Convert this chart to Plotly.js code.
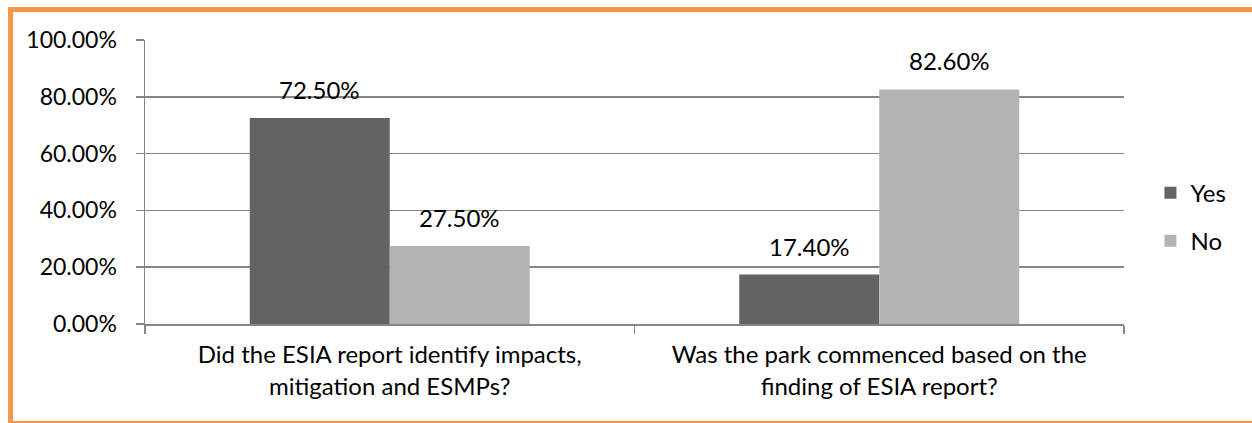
<!DOCTYPE html>
<html>
<head>
<meta charset="utf-8">
<script src="https://cdn.plot.ly/plotly-3.0.1.min.js"></script>
<style>
html,body{margin:0;padding:0;width:1252px;height:423px;overflow:hidden;background:#fff;}
#chart{position:absolute;left:0;top:0;width:1252px;height:423px;}
#frame{position:absolute;left:8px;top:7px;width:1260px;height:409px;border-left:5px solid #F79646;border-top:5px solid #F79646;border-bottom:5px solid #F79646;pointer-events:none;}
</style>
</head>
<body>
<div id="chart"></div>
<div id="frame"></div>
<script>
var categories = ["Did the ESIA report identify impacts,<br>mitigation and ESMPs?", "Was the park commenced based on the<br>finding of ESIA report?"];
var seriesNames = ["Yes", "No"];
var yesValues = [0.725, 0.174];
var noValues = [0.275, 0.826];
var yTickVals = [0, 0.2, 0.4, 0.6, 0.8, 1.0];
var yTickText = ["0.00%", "20.00%", "40.00%", "60.00%", "80.00%", "100.00%"];
var colors = ["#636363", "#B3B3B3"];

var FONT = "Lato, 'Open Sans', sans-serif";
var FS = 24;

var traces = [
  {type: "bar", name: seriesNames[0], x: categories, y: yesValues, marker: {color: colors[0]}, legend: "legend", hoverinfo: "none"},
  {type: "bar", name: seriesNames[1], x: categories, y: noValues, marker: {color: colors[1]}, legend: "legend2", hoverinfo: "none"}
];

var annotations = [];
[yesValues, noValues].forEach(function (vals, s) {
  vals.forEach(function (v, i) {
    annotations.push({
      x: categories[i], y: v, xref: "x", yref: "y",
      text: (v * 100).toFixed(2) + "%",
      showarrow: false, yanchor: "bottom",
      xshift: s === 0 ? -70 : 70, yshift: 12,
      font: {family: FONT, size: FS, color: "#000"}
    });
  });
});

var layout = {
  width: 1252, height: 423,
  margin: {l: 145, r: 128, t: 40, b: 99, pad: 0},
  paper_bgcolor: "#fff", plot_bgcolor: "#fff",
  font: {family: FONT, size: FS, color: "#000"},
  barmode: "group", bargap: 0.428, bargroupgap: 0,
  showlegend: true,
  legend: {x: 1.027, y: 0.461, xanchor: "left", yanchor: "middle", font: {family: FONT, size: FS}, bgcolor: "rgba(0,0,0,0)"},
  legend2: {x: 1.027, y: 0.292, xanchor: "left", yanchor: "middle", font: {family: FONT, size: FS}, bgcolor: "rgba(0,0,0,0)"},
  xaxis: {
    type: "category", showline: true, linecolor: "#868686", linewidth: 1.5,
    ticks: "outside", tickson: "boundaries", ticklen: 8, tickcolor: "#868686", tickwidth: 1.5,
    showgrid: false, fixedrange: true, ticklabelstandoff: 9,
    tickfont: {family: FONT, size: FS, color: "#000"}
  },
  yaxis: {
    range: [0, 1], tickvals: yTickVals, ticktext: yTickText,
    showline: true, linecolor: "#868686", linewidth: 1.5,
    ticks: "outside", ticklen: 8, tickcolor: "#868686", tickwidth: 1.5,
    showgrid: true, gridcolor: "#868686", gridwidth: 1.5, zeroline: false,
    ticklabelstandoff: 14, fixedrange: true, tickfont: {family: FONT, size: 23, color: "#000"}
  },
  annotations: annotations
};

Plotly.newPlot("chart", traces, layout, {displayModeBar: false, staticPlot: true});
</script>
</body>
</html>
